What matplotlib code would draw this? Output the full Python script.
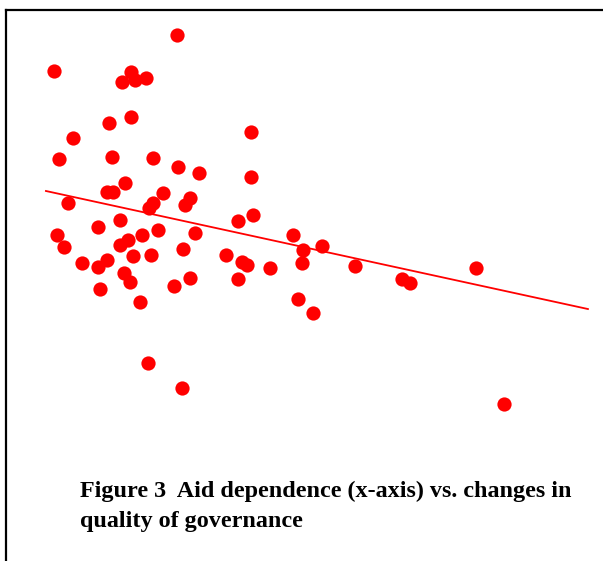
import numpy as np
import matplotlib
matplotlib.use("Agg")
import matplotlib.pyplot as plt
from matplotlib.lines import Line2D

# Aid dependence (x) vs. change in governance quality (y)
aid = [7.61, 0.78, 5.06, 4.56, 5.28, 5.89, 3.83, 5.06, 1.83, 11.72,
       1.06, 4.0, 6.28, 7.67, 8.83, 11.72, 4.72, 3.72, 4.06, 6.83,
       8.33, 1.56, 6.28, 6.06, 8.06, 3.22, 4.44, 0.94, 1.33, 6.56,
       5.67, 4.89, 4.44, 8.61, 7.94, 11.0, 11.83, 10.33, 11.22, 11.5,
       12.78, 2.33, 3.72, 3.22, 5.17, 6.17, 4.67, 5.0, 3.33, 8.33,
       7.44, 11.0, 5.56, 6.0, 7.89, 14.06, 14.61, 15.67, 14.56, 17.5,
       20.11, 20.56, 24.22, 14.33, 15.17, 25.78]
gov = [4.30, 3.58, 3.56, 3.36, 3.40, 3.44, 2.54, 2.66, 2.24, 2.36,
       1.82, 1.86, 1.84, 1.66, 1.54, 1.46, 1.34, 1.16, 1.16, 1.14,
       1.04, 0.94, 0.94, 0.84, 0.90, 0.46, 0.60, 0.30, 0.06, 0.40,
       0.30, 0.20, 0.10, 0.34, 0.02, 0.58, 0.70, -0.10, -0.24, -0.30,
       -0.36, -0.26, -0.20, -0.34, -0.12, -0.10, -0.46, -0.64, -0.78, -0.56,
       -0.72, -0.58, -1.04, -2.26, -2.76, 0.30, 0.00, 0.08, -0.26, -0.32,
       -0.58, -0.66, -0.36, -0.98, -1.26, -3.08]

# fitted trend line
fit_intercept = 1.206
fit_slope = -0.0784
fit_range = [0.33, 30.44]

caption = ["Figure 3  Aid dependence (x-axis) vs. changes in",
           "quality of governance"]

fig = plt.figure(figsize=(6.03, 5.61), dpi=100)
ax = fig.add_axes([0, 0, 1, 1])
ax.set_xlim(-40 / 18, 563 / 18)
ax.set_ylim(-311 / 50, 250 / 50)
ax.axis("off")

ax.scatter(aid, gov, s=105, color="#ff0000", marker="o", linewidths=0, zorder=3)

xf = np.array(fit_range)
ax.plot(xf, fit_intercept + fit_slope * xf, color="#ff0000", lw=1.3, zorder=2)

# frame (only top and left edges visible in the crop)
fig.add_artist(Line2D([5.5 / 603, 1], [1 - 9.5 / 561, 1 - 9.5 / 561],
                      transform=fig.transFigure, color="black", lw=1.6))
fig.add_artist(Line2D([5.5 / 603, 5.5 / 603], [0, 1 - 9.5 / 561],
                      transform=fig.transFigure, color="black", lw=1.6))

for i, line in enumerate(caption):
    fig.text(80 / 603, 1 - (497 + 30 * i) / 561, line, family="Liberation Serif",
             fontweight="bold", fontsize=17.4, color="black", va="baseline")

fig.savefig("out.png", dpi=100)
